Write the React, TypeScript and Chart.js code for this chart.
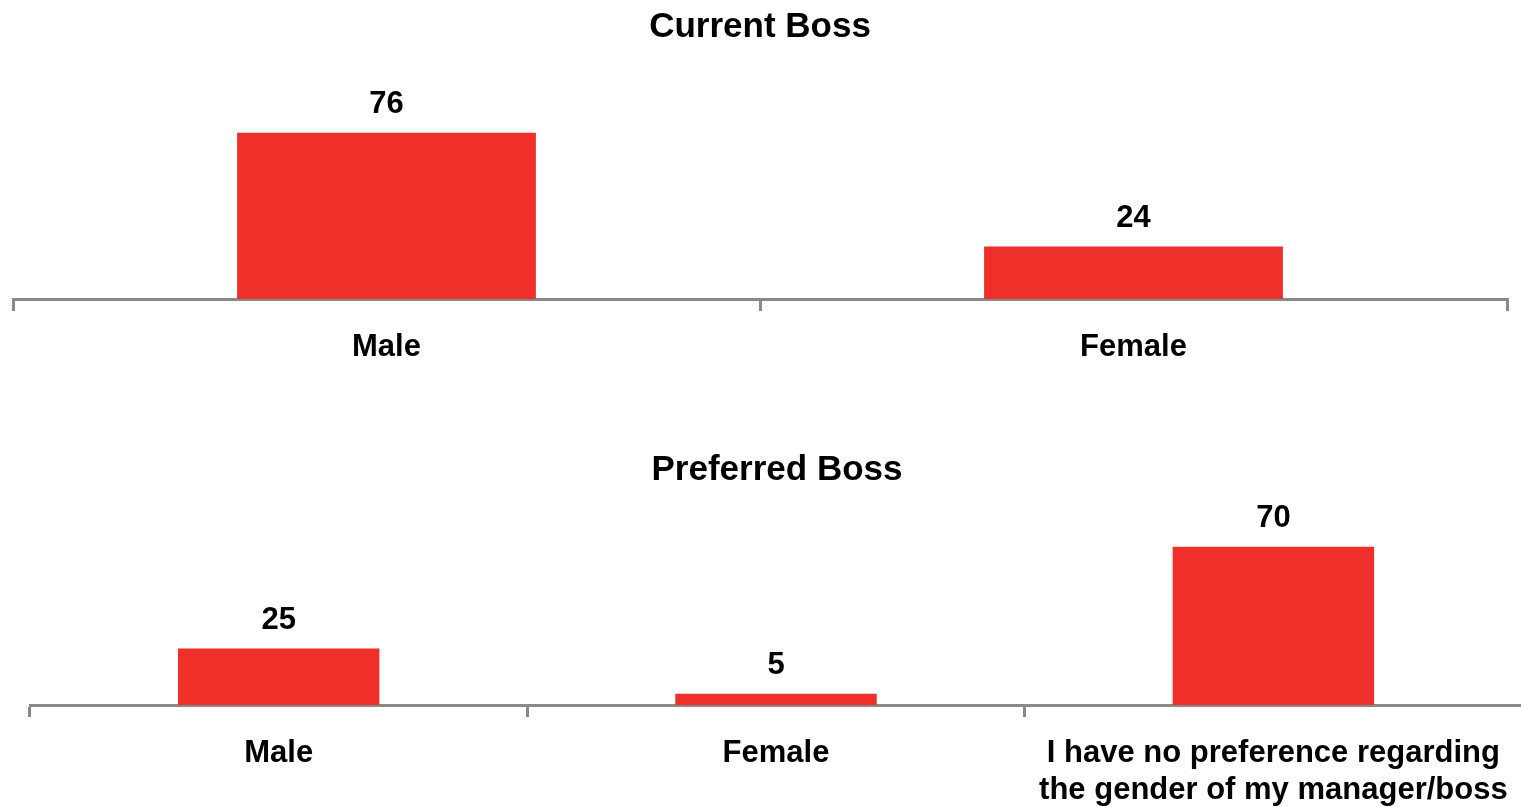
import React, { useEffect, useRef } from "react";
import { Chart, registerables } from "chart.js";

Chart.register(...registerables);

const currentTitle = "Current Boss";
const currentCategories: (string | string[])[] = ["Male", "Female"];
const currentValues = [76, 24];

const preferredTitle = "Preferred Boss";
const preferredCategories: (string | string[])[] = [
  "Male",
  "Female",
  ["I have no preference regarding", "the gender of my manager/boss"],
];
const preferredValues = [25, 5, 70];

const RED = "#EE2F2A";
const GRAY = "#898989";
const FONT = "'Liberation Sans', Arial, Helvetica, sans-serif";

const valueLabels = {
  id: "valueLabels",
  afterDatasetsDraw(chart: any) {
    const ctx = chart.ctx;
    ctx.save();
    ctx.fillStyle = "#000";
    ctx.font = `bold 31px ${FONT}`;
    ctx.textAlign = "center";
    ctx.textBaseline = "middle";
    chart.data.datasets.forEach((ds: any, di: number) => {
      const meta = chart.getDatasetMeta(di);
      meta.data.forEach((bar: any, i: number) => {
        ctx.fillText(String(ds.data[i]), bar.x, bar.y - 28);
      });
    });
    ctx.restore();
  },
};

type Cfg = {
  title: string;
  cats: (string | string[])[];
  vals: number[];
  width: number;
  height: number;
  padLeft: number;
  padRight: number;
  axisH: number;
  titleTop: number;
  titleBottom: number;
  barPct: number;
};

function BarPanel(props: Cfg) {
  const ref = useRef<HTMLCanvasElement>(null);
  useEffect(() => {
    if (!ref.current) return;
    const chart = new Chart(ref.current, {
      type: "bar",
      data: {
        labels: props.cats as any,
        datasets: [
          {
            data: props.vals,
            backgroundColor: RED,
            borderWidth: 0,
            categoryPercentage: 1,
            barPercentage: props.barPct,
          },
        ],
      },
      options: {
        responsive: false,
        animation: false,
        devicePixelRatio: 1,
        layout: {
          padding: { left: props.padLeft, right: props.padRight, top: 0, bottom: 0 },
        },
        plugins: {
          legend: { display: false },
          tooltip: { enabled: false },
          title: {
            display: true,
            text: props.title,
            color: "#000",
            font: { family: FONT, size: 35, weight: "bold", lineHeight: 1.2 },
            padding: { top: props.titleTop, bottom: props.titleBottom },
          },
        },
        scales: {
          x: {
            offset: true,
            afterFit: (scale: any) => {
              scale.height = props.axisH;
            },
            grid: {
              display: true,
              offset: true,
              drawOnChartArea: false,
              drawTicks: true,
              tickLength: 12,
              color: GRAY,
              lineWidth: 3,
            },
            border: { display: true, color: GRAY, width: 3 },
            ticks: {
              color: "#000",
              padding: 18,
              maxRotation: 0,
              autoSkip: false,
              font: { family: FONT, size: 31, weight: "bold", lineHeight: 1.2 },
            },
          },
          y: {
            display: false,
            min: 0,
            max: 80,
          },
        },
      },
      plugins: [valueLabels],
    } as any);
    return () => chart.destroy();
  }, []);
  return (
    <canvas
      ref={ref}
      width={props.width}
      height={props.height}
      style={{ display: "block", width: props.width, height: props.height }}
    />
  );
}

export default function App() {
  return (
    <div
      style={{
        position: "fixed",
        left: 0,
        top: 0,
        width: 1521,
        height: 807,
        overflow: "hidden",
        background: "#fff",
      }}
    >
      <div style={{ position: "absolute", left: 0, top: 0 }}>
        <BarPanel
          title={currentTitle}
          cats={currentCategories}
          vals={currentValues}
          width={1521}
          height={400}
          padLeft={13}
          padRight={14}
          axisH={101}
          titleTop={6}
          titleBottom={76}
          barPct={0.4}
        />
      </div>
      <div style={{ position: "absolute", left: 0, top: 400 }}>
        <BarPanel
          title={preferredTitle}
          cats={preferredCategories}
          vals={preferredValues}
          width={1526}
          height={407}
          padLeft={30}
          padRight={2}
          axisH={102}
          titleTop={49}
          titleBottom={33}
          barPct={0.405}
        />
      </div>
    </div>
  );
}
